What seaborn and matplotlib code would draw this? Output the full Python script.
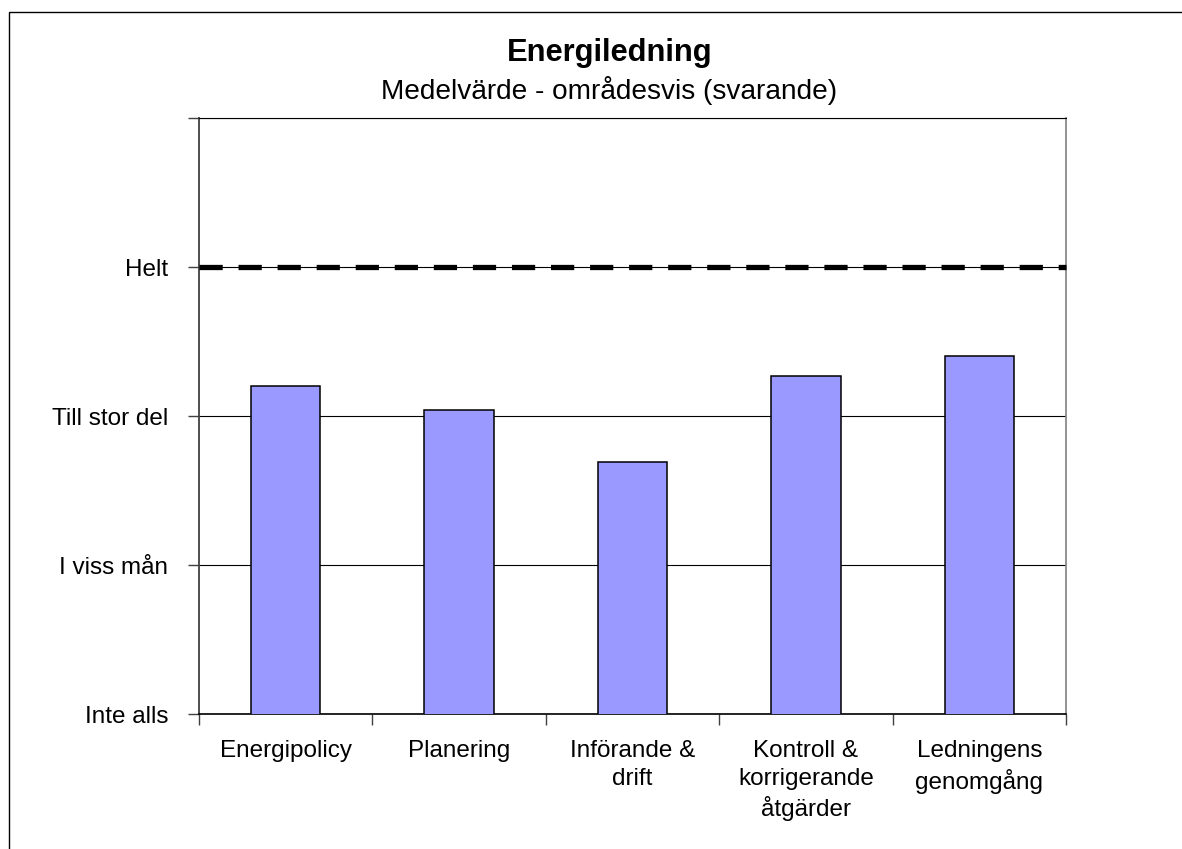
import matplotlib
matplotlib.use("Agg")
import matplotlib.pyplot as plt
import seaborn as sns
import pandas as pd
from matplotlib.patches import Rectangle
from matplotlib.ticker import FixedLocator

categories = ["Energipolicy", "Planering", "Införande &\ndrift",
              "Kontroll &\nkorrigerande\nåtgärder", "Ledningens\ngenomgång"]
values = [3.20, 3.04, 2.69, 3.27, 3.40]
level_values = [1, 2, 3, 4]
level_labels = ["Inte alls", "I viss mån", "Till stor del", "Helt"]
target_value = 4
title = "Energiledning"
subtitle = "Medelvärde - områdesvis (svarande)"

sns.set_theme(style="white")
plt.rcParams["font.family"] = ["Liberation Sans", "DejaVu Sans"]
plt.rcParams["text.color"] = "black"

df = pd.DataFrame({"Område": categories, "Medelvärde": values})

fig = plt.figure(figsize=(11.82, 8.49), dpi=100)
ax = fig.add_axes([0.1684, 0.1590, 0.9019 - 0.1684, 0.8610 - 0.1590])

sns.barplot(data=df, x="Område", y="Medelvärde", color="#9999FF",
            saturation=1, width=0.40, edgecolor="black", linewidth=1.1, ax=ax,
            zorder=3)

ax.set_ylim(1, 5)
ax.set_xlim(-0.5, len(categories) - 0.5)

# gridlines
ax.yaxis.set_major_locator(FixedLocator([1, 2, 3, 4, 5]))
ax.set_yticklabels(level_labels + [""])
ax.grid(axis="y", color="black", linewidth=0.8, zorder=0)
ax.grid(axis="x", visible=False)
ax.set_axisbelow(True)

# target line
ax.axhline(target_value, color="black", linewidth=3.8,
           linestyle=(0, (4.4, 3.0)), solid_capstyle="butt",
           dash_capstyle="butt", zorder=4, clip_on=False)

ax.set_xlabel("")
ax.set_ylabel("")

# ticks
ax.tick_params(axis="x", which="major", length=0, labelsize=17.5, pad=19,
               colors="black")
ax.set_xticks([i - 0.5 for i in range(len(categories) + 1)], minor=True)
ax.tick_params(axis="x", which="minor", length=8, width=1, direction="out",
               color="#404040", bottom=True)
ax.tick_params(axis="y", length=8, width=1, direction="out", left=True,
               labelsize=17.5, pad=14, color="#404040", labelcolor="black")

for side in ["left", "right", "top", "bottom"]:
    ax.spines[side].set_visible(True)
ax.spines["left"].set_color("#404040")
ax.spines["left"].set_linewidth(1.3)
ax.spines["right"].set_color("#808080")
ax.spines["right"].set_linewidth(1.2)
ax.spines["top"].set_color("black")
ax.spines["top"].set_linewidth(0.8)
ax.spines["bottom"].set_color("black")
ax.spines["bottom"].set_linewidth(1.2)

fig.text(0.516, 1 - 61 / 849, title, ha="center", va="baseline",
         fontsize=22.2, fontweight="bold", color="black")
fig.text(0.515, 1 - 99 / 849, subtitle, ha="center", va="baseline",
         fontsize=20.2, color="black")

# chart-area border
fig.patches.append(Rectangle((8.5 / 1182, -0.1), 1.2, 1.1 - 11.5 / 849,
                             transform=fig.transFigure, fill=False,
                             edgecolor="black", linewidth=1.0))

fig.canvas.draw()
for tick in ax.xaxis.get_major_ticks():
    tick.label1.set_linespacing(1.32)

fig.savefig("out.png", dpi=100)
